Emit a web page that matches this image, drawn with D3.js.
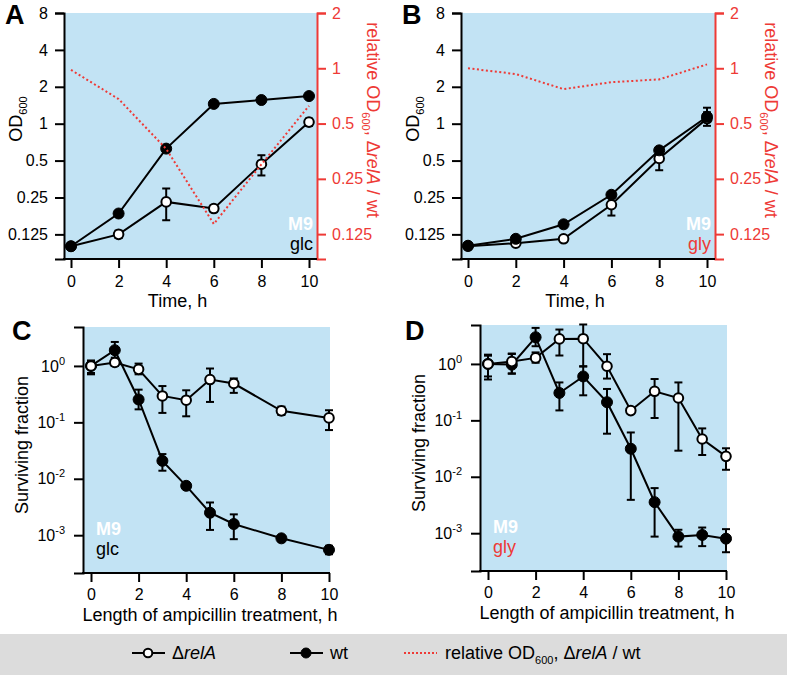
<!DOCTYPE html>
<html>
<head>
<meta charset="utf-8">
<script src="https://cdn.jsdelivr.net/npm/d3@7"></script>
<style>
  body { margin: 0; background: #fff; }
  svg { display: block; font-family: "Liberation Sans", Arial, Helvetica, sans-serif; }
</style>
</head>
<body>
<svg id="chart" width="787" height="675"></svg>
<script>
// growth curves (A: glucose, B: glycerol)
const growthHours = [0, 2, 4, 6, 8, 10];
const odTicks = [0.125, 0.25, 0.5, 1, 2, 4, 8];
const ratioTicks = [0.125, 0.25, 0.5, 1, 2];

const glcWt = [0.1, 0.185, 0.626, 1.45, 1.56, 1.68];
const glcWtLo = [0.1, 0.185, 0.626, 1.38, 1.56, 1.68];
const glcWtHi = [0.1, 0.185, 0.626, 1.52, 1.56, 1.68];
const glcRelA = [0.1, 0.125, 0.23, 0.203, 0.467, 1.03];
const glcRelALo = [0.1, 0.117, 0.163, 0.19, 0.378, 0.96];
const glcRelAHi = [0.1, 0.134, 0.296, 0.216, 0.553, 1.1];
const glcRatio = [0.98, 0.68, 0.364, 0.142, 0.3, 0.624];

const glyWt = [0.101, 0.115, 0.151, 0.263, 0.606, 1.14];
const glyWtLo = [0.101, 0.111, 0.146, 0.25, 0.575, 1.05];
const glyWtHi = [0.101, 0.119, 0.156, 0.276, 0.64, 1.24];
const glyRelA = [0.1, 0.106, 0.115, 0.218, 0.52, 1.1];
const glyRelALo = [0.1, 0.103, 0.112, 0.178, 0.417, 0.96];
const glyRelAHi = [0.1, 0.109, 0.118, 0.253, 0.6, 1.35];
const glyRatio = [1.0, 0.93, 0.77, 0.84, 0.87, 1.05];

// ampicillin killing (C: glucose, D: glycerol)
const survTicks = [1, 0.1, 0.01, 0.001];
const survHoursGlc = [0, 1, 2, 3, 4, 5, 6, 8, 10];
const survGlcWt = [1.0, 1.9, 0.254, 0.0208, 0.0075, 0.0025, 0.00158, 0.00088, 0.00055];
const survGlcWtLo = [0.75, 1.4, 0.17, 0.0139, 0.0068, 0.00124, 0.00085, 0.0008, 0.00046];
const survGlcWtHi = [1.25, 2.66, 0.38, 0.0274, 0.0083, 0.0038, 0.00234, 0.00096, 0.00065];
const survGlcRelA = [1.0, 1.15, 0.87, 0.294, 0.247, 0.574, 0.488, 0.16, 0.12];
const survGlcRelALo = [0.71, 1.0, 0.71, 0.147, 0.128, 0.23, 0.333, 0.135, 0.073];
const survGlcRelAHi = [1.21, 1.3, 1.1, 0.44, 0.37, 0.9, 0.6, 0.19, 0.164];

const survHoursGly = [0, 1, 2, 3, 4, 5, 6, 7, 8, 9, 10];
const survGlyWt = [1.0, 0.97, 2.97, 0.306, 0.6, 0.21, 0.0314, 0.00355, 0.00087, 0.00093, 0.0008];
const survGlyWtLo = [0.53, 0.68, 2.06, 0.15, 0.278, 0.058, 0.0039, 0.00087, 0.00058, 0.00059, 0.00046];
const survGlyWtHi = [1.46, 1.5, 4.35, 0.47, 0.91, 0.36, 0.061, 0.0063, 0.00115, 0.00126, 0.00118];
const survGlyRelA = [1.0, 1.1, 1.28, 2.78, 2.8, 0.91, 0.149, 0.327, 0.249, 0.0467, 0.023];
const survGlyRelALo = [0.6, 0.67, 1.05, 1.41, 0.9, 0.55, 0.149, 0.11, 0.029, 0.0243, 0.0133];
const survGlyRelAHi = [1.4, 1.53, 1.6, 4.07, 5.0, 1.49, 0.149, 0.54, 0.47, 0.072, 0.032];

const BLUE = '#c2e3f4';
const RED = '#ee3a36';
const svg = d3.select('#chart');

function styleAxis(sel, color) {
  sel.attr('font-size', 16).attr('font-family', null);
  sel.selectAll('.domain').attr('stroke', color).attr('stroke-width', 2);
  sel.selectAll('.tick line').attr('stroke', color).attr('stroke-width', 2);
  sel.selectAll('.tick text').attr('fill', color);
}

function drawSeries(g, x, y, xs, vals, lo, hi, filled) {
  const pts = xs.map((h, i) => ({ h, v: vals[i], lo: lo[i], hi: hi[i] }));
  g.append('path')
    .datum(pts)
    .attr('fill', 'none')
    .attr('stroke', '#000')
    .attr('stroke-width', 2)
    .attr('d', d3.line().x(d => x(d.h)).y(d => y(d.v)));

  const err = g.append('g').attr('stroke', '#000').attr('stroke-width', 2);
  pts.filter(d => d.lo !== d.hi).forEach(d => {
    const cx = x(d.h);
    err.append('line').attr('x1', cx).attr('x2', cx).attr('y1', y(d.lo)).attr('y2', y(d.hi));
    err.append('line').attr('x1', cx - 4).attr('x2', cx + 4).attr('y1', y(d.lo)).attr('y2', y(d.lo));
    err.append('line').attr('x1', cx - 4).attr('x2', cx + 4).attr('y1', y(d.hi)).attr('y2', y(d.hi));
  });

  g.append('g').selectAll('circle')
    .data(pts)
    .enter().append('circle')
    .attr('cx', d => x(d.h))
    .attr('cy', d => y(d.v))
    .attr('r', filled ? 5.5 : 4.8)
    .attr('fill', filled ? '#000' : '#fff')
    .attr('stroke', '#000')
    .attr('stroke-width', filled ? 1 : 2);
}

function addOD(text) {
  text.append('tspan').text('OD');
  text.append('tspan').attr('font-size', 11).attr('dy', 5).text('600');
}

function mediumLabel(g, x, y, anchor, sugar, sugarColor) {
  g.append('text').attr('x', x).attr('y', y).attr('text-anchor', anchor)
    .attr('font-size', 18).attr('font-weight', 'bold').attr('fill', '#fff').text('M9');
  g.append('text').attr('x', x).attr('y', y + 20).attr('text-anchor', anchor)
    .attr('font-size', 18).attr('fill', sugarColor).text(sugar);
}

function growthPanel(o) {
  const g = svg.append('g');
  const x = d3.scaleLinear().domain([0, 10]).range([o.left + 7, o.right - 8]);
  const y = d3.scaleLog().base(2).domain([0.0787, 8]).range([o.bottom, o.top]);
  const yR = d3.scaleLog().base(2).domain([0.0915, 2]).range([o.bottom, o.top]);

  g.append('rect')
    .attr('x', o.left).attr('y', o.top)
    .attr('width', o.right - o.left).attr('height', o.bottom - o.top)
    .attr('fill', BLUE);

  mediumLabel(g, o.right - 4, o.bottom - 29, 'end', o.sugar, o.sugarColor);

  drawSeries(g, x, y, growthHours, o.relA, o.relALo, o.relAHi, false);
  drawSeries(g, x, y, growthHours, o.wt, o.wtLo, o.wtHi, true);

  g.append('path')
    .datum(growthHours.map((h, i) => [h, o.ratio[i]]))
    .attr('fill', 'none')
    .attr('stroke', RED)
    .attr('stroke-width', 2)
    .attr('stroke-dasharray', '2,2.5')
    .attr('d', d3.line().x(d => x(d[0])).y(d => yR(d[1])));

  g.append('g')
    .attr('transform', `translate(${o.left},0)`)
    .call(d3.axisLeft(y).tickValues(odTicks).tickFormat(d => String(d)).tickSizeOuter(0).tickSize(9).tickPadding(7))
    .call(s => styleAxis(s, '#000'));

  g.append('g')
    .attr('transform', `translate(${o.right},0)`)
    .call(d3.axisRight(yR).tickValues(ratioTicks).tickFormat(d => String(d)).tickSizeOuter(0).tickSize(9).tickPadding(6))
    .call(s => styleAxis(s, RED));

  const xa = g.append('g')
    .attr('transform', `translate(0,${o.bottom})`)
    .call(d3.axisBottom(x).tickValues([0, 2, 4, 6, 8, 10]).tickSizeOuter(0).tickSize(9).tickPadding(8))
    .call(s => styleAxis(s, '#000'));
  xa.select('.domain').remove();
  g.append('line')
    .attr('x1', o.left - 1).attr('x2', o.right)
    .attr('y1', o.bottom).attr('y2', o.bottom)
    .attr('stroke', '#000').attr('stroke-width', 2);

  g.append('text')
    .attr('x', (o.left + o.right) / 2 - 13).attr('y', o.bottom + 48)
    .attr('text-anchor', 'middle').attr('font-size', 18).text('Time, h');

  const yl = g.append('text')
    .attr('transform', `translate(${o.left - 42},119) rotate(-90)`)
    .attr('text-anchor', 'middle').attr('font-size', 18);
  addOD(yl);

  const rl = g.append('text')
    .attr('transform', `translate(${o.right + 50},120) rotate(90)`)
    .attr('text-anchor', 'middle').attr('font-size', 18).attr('fill', RED);
  rl.append('tspan').text('relative OD');
  rl.append('tspan').attr('font-size', 11).attr('dy', 5).text('600');
  rl.append('tspan').attr('dy', -5).text(', Δ');
  rl.append('tspan').attr('font-style', 'italic').text('relA');
  rl.append('tspan').text(' / wt');

  svg.append('text')
    .attr('x', o.letterX).attr('y', 24)
    .attr('font-size', 27).attr('font-weight', 'bold').text(o.letter);
}

function survivalPanel(o) {
  const g = svg.append('g');
  const x = d3.scaleLinear().domain([0, 10]).range([o.left + 8, o.right - 1]);
  const y = d3.scaleLog().domain([Math.pow(10, -3.67), Math.pow(10, 0.69)]).range([o.bottom, o.top]);

  g.append('rect')
    .attr('x', o.left).attr('y', o.top)
    .attr('width', o.right - o.left).attr('height', o.bottom - o.top)
    .attr('fill', BLUE);

  mediumLabel(g, o.left + 13, o.bottom - 38, 'start', o.sugar, o.sugarColor);

  drawSeries(g, x, y, o.hours, o.wt, o.wtLo, o.wtHi, true);
  drawSeries(g, x, y, o.hours, o.relA, o.relALo, o.relAHi, false);

  g.append('g')
    .attr('transform', `translate(${o.left},0)`)
    .call(d3.axisLeft(y).tickValues(survTicks).tickSizeOuter(0).tickSize(9).tickPadding(9))
    .call(s => styleAxis(s, '#000'))
    .selectAll('.tick text')
    .each(function (d) {
      const t = d3.select(this);
      t.text('');
      t.append('tspan').text('10');
      t.append('tspan').attr('font-size', 11).attr('dy', -7).text(String(Math.round(Math.log10(d))));
    });

  const xa = g.append('g')
    .attr('transform', `translate(0,${o.bottom})`)
    .call(d3.axisBottom(x).tickValues([0, 2, 4, 6, 8, 10]).tickSizeOuter(0).tickSize(9).tickPadding(7))
    .call(s => styleAxis(s, '#000'));
  xa.select('.domain').remove();
  g.append('line')
    .attr('x1', o.left - 1).attr('x2', o.right)
    .attr('y1', o.bottom).attr('y2', o.bottom)
    .attr('stroke', '#000').attr('stroke-width', 2);

  g.append('text')
    .attr('x', (x.range()[0] + x.range()[1]) / 2).attr('y', o.bottom + 48)
    .attr('text-anchor', 'middle').attr('font-size', 18)
    .text('Length of ampicillin treatment, h');

  g.append('text')
    .attr('transform', `translate(${o.left - 55},${(o.top + o.bottom) / 2 - 5}) rotate(-90)`)
    .attr('text-anchor', 'middle').attr('font-size', 18)
    .text('Surviving fraction');

  svg.append('text')
    .attr('x', o.letterX).attr('y', 340)
    .attr('font-size', 27).attr('font-weight', 'bold').text(o.letter);
}

growthPanel({
  letter: 'A', letterX: 5, left: 64, right: 317, top: 13, bottom: 259,
  sugar: 'glc', sugarColor: '#000',
  wt: glcWt, wtLo: glcWtLo, wtHi: glcWtHi,
  relA: glcRelA, relALo: glcRelALo, relAHi: glcRelAHi, ratio: glcRatio
});

growthPanel({
  letter: 'B', letterX: 402, left: 461, right: 715, top: 13, bottom: 259,
  sugar: 'gly', sugarColor: RED,
  wt: glyWt, wtLo: glyWtLo, wtHi: glyWtHi,
  relA: glyRelA, relALo: glyRelALo, relAHi: glyRelAHi, ratio: glyRatio
});

survivalPanel({
  letter: 'C', letterX: 12, left: 83, right: 330, top: 327, bottom: 573,
  sugar: 'glc', sugarColor: '#000', hours: survHoursGlc,
  wt: survGlcWt, wtLo: survGlcWtLo, wtHi: survGlcWtHi,
  relA: survGlcRelA, relALo: survGlcRelALo, relAHi: survGlcRelAHi
});

survivalPanel({
  letter: 'D', letterX: 405, left: 480, right: 727, top: 325, bottom: 571,
  sugar: 'gly', sugarColor: RED, hours: survHoursGly,
  wt: survGlyWt, wtLo: survGlyWtLo, wtHi: survGlyWtHi,
  relA: survGlyRelA, relALo: survGlyRelALo, relAHi: survGlyRelAHi
});

// legend band
const leg = svg.append('g');
leg.append('rect').attr('x', 0).attr('y', 634).attr('width', 787).attr('height', 41).attr('fill', '#dcdcdc');

const legendY = 653;
[[132, false], [290, true]].forEach(([lx, filled]) => {
  leg.append('line').attr('x1', lx).attr('x2', lx + 33).attr('y1', legendY).attr('y2', legendY)
    .attr('stroke', '#000').attr('stroke-width', 2);
  leg.append('circle').attr('cx', lx + 16).attr('cy', legendY).attr('r', filled ? 5 : 4.3)
    .attr('fill', filled ? '#000' : '#fff').attr('stroke', '#000').attr('stroke-width', filled ? 1 : 2);
});
leg.append('line').attr('x1', 404).attr('x2', 437).attr('y1', legendY).attr('y2', legendY)
  .attr('stroke', RED).attr('stroke-width', 2).attr('stroke-dasharray', '2,2');

const t1 = leg.append('text').attr('x', 172).attr('y', legendY + 6).attr('font-size', 18);
t1.append('tspan').text('Δ');
t1.append('tspan').attr('font-style', 'italic').text('relA');

leg.append('text').attr('x', 330).attr('y', legendY + 6).attr('font-size', 18).text('wt');

const t3 = leg.append('text').attr('x', 445).attr('y', legendY + 6).attr('font-size', 18);
t3.append('tspan').text('relative OD');
t3.append('tspan').attr('font-size', 11).attr('dy', 5).text('600');
t3.append('tspan').attr('dy', -5).text(', Δ');
t3.append('tspan').attr('font-style', 'italic').text('relA');
t3.append('tspan').text(' / wt');
</script>
</body>
</html>
